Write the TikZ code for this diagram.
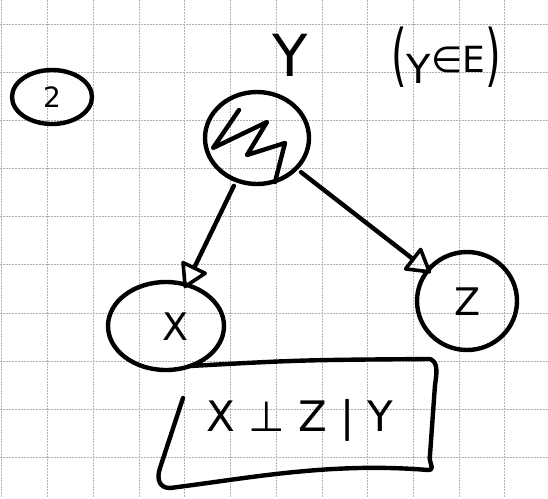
\documentclass[tikz,border=0pt]{standalone}
\usepackage{fontspec}
\setmainfont{DejaVu Sans}
\usetikzlibrary{shapes.geometric,arrows.meta}
\tikzset{
  ink/.style={line width=4.4pt, line cap=round, line join=round, black},
  nodecirc/.style={ellipse, draw, line width=4.4pt, inner sep=0pt},
  gridline/.style={gray!60, line width=0.6pt, dash pattern=on 1.5pt off 1.5pt},
  openarrow/.style={ink, shorten >=-6pt, -{Triangle[open, length=26pt, width=30pt, line width=3.6pt, round]}},
  hand/.style={font=\fontsize{40}{40}\selectfont, inner sep=0pt}
}
\begin{document}
\begin{tikzpicture}[x=1pt,y=-1pt]
\useasboundingbox (0,0) rectangle (548,498);
\fill[white] (0,0) rectangle (548,498);
% graph paper grid
\foreach \gx in {1,47,93,139,184,230,276,322,367,413,459,504} {
  \draw[gridline] (\gx,0) -- (\gx,498);
}
\foreach \gy in {24,72,120,168,216,264,313,361,409,457} {
  \draw[gridline] (0,\gy) -- (548,\gy);
}
% circled 2
\node[nodecirc, minimum width=80pt, minimum height=54pt, font=\fontsize{28}{28}\selectfont] (two) at (52,97) {2};
% Y label and (Y in E)
\node[hand, font=\fontsize{58}{58}\selectfont] (ylab) at (290,55) {Y};
\node[hand] (yinE) at (446,57) {\scalebox{1}[1.7]{(}\raisebox{-5pt}{Y}\raisebox{6pt}{\fontsize{36}{36}\selectfont ∈E}\scalebox{1}[1.7]{)}};
% nodes
\node[nodecirc, minimum width=104pt, minimum height=92pt] (Y) at (257,138) {};
\draw[ink] (239,110) -- (213,148) -- (267,122) -- (247,155) -- (285,143) -- (275,182);
\node[nodecirc, minimum width=116pt, minimum height=88pt] (X) at (166,326) {};
\node[hand, font=\fontsize{38}{38}\selectfont] (xlab) at (176,327) {X};
\node[nodecirc, minimum width=100pt, minimum height=98pt] (Z) at (467,301) {};
\node[hand, font=\fontsize{38}{38}\selectfont] (zlab) at (468,302) {Z};
% arrows
\draw[openarrow, shorten <=4pt] (Y) -- (X);
\draw[openarrow, shorten <=4pt] (Y) -- (Z);
% box with statement
\coordinate (b1) at (190,366);
\coordinate (b2) at (430,359);
\coordinate (b3) at (428,470);
\coordinate (b5) at (183,398);
\draw[ink] (b1) .. controls (300,360) .. (b2) .. controls (438,362) and (437,372) .. (435,385)
  -- (430,455) .. controls (428,462) and (436,470) .. (b3)
  .. controls (330,462) and (250,478) .. (170,488) .. controls (160,488) and (156,480) .. (160,468) -- (b5);
\node[hand, font=\fontsize{42}{42}\selectfont] (stmt) at (300,420) {X ⊥ Z | Y};
\end{tikzpicture}
\end{document}
